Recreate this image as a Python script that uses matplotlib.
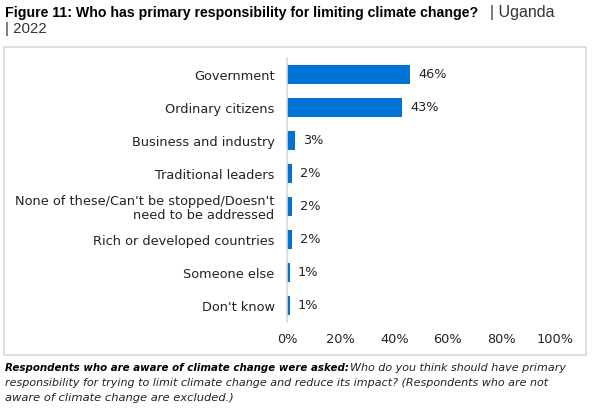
import matplotlib
matplotlib.use("Agg")
import matplotlib.pyplot as plt
from matplotlib.patches import Rectangle

categories = ["Government", "Ordinary citizens", "Business and industry",
              "Traditional leaders",
              "None of these/Can't be stopped/Doesn't\nneed to be addressed",
              "Rich or developed countries", "Someone else", "Don't know"]
values = [46, 43, 3, 2, 2, 2, 1, 1]
ticks = [0, 20, 40, 60, 80, 100]
tick_labels = ["0%", "20%", "40%", "60%", "80%", "100%"]

bar_color = "#0074D4"
txt = "#222222"

fig = plt.figure(figsize=(6.02, 4.11), dpi=100)
r = fig.canvas.get_renderer()


def fit_text(x, yy, s, width, size, **kw):
    # shrink/grow text so it spans the given width in pixels
    t = fig.text(x / 602, 1 - yy / 411, s, fontsize=size, va="center", **kw)
    w = t.get_window_extent(r).width
    t.set_fontsize(size * width / w)
    return t


# chart frame
fig.patches.append(Rectangle((4 / 602, 1 - 355 / 411), 582 / 602, 308 / 411,
                             transform=fig.transFigure, fill=False,
                             edgecolor="#d9d9d9", linewidth=1.2))

ax = fig.add_axes([287 / 602, 1 - 322 / 411, 268 / 602, 264 / 411])
y = list(range(len(categories)))
ax.barh(y, values, height=0.55, color=bar_color)
ax.set_ylim(len(categories) - 0.5, -0.5)
ax.set_xlim(0, 100)
ax.set_yticks(y)
ax.set_yticklabels(categories, fontsize=9.3, color=txt, linespacing=1.1)
ax.set_xticks(ticks)
ax.set_xticklabels(tick_labels, fontsize=9.3, color=txt)
ax.tick_params(axis="both", length=0)
ax.tick_params(axis="y", pad=9)
ax.tick_params(axis="x", pad=8)
for s in ["top", "right", "bottom"]:
    ax.spines[s].set_visible(False)
ax.spines["left"].set_color("#d9d9d9")
ax.spines["left"].set_linewidth(1.2)

for yi, v in zip(y, values):
    ax.text(v + 3, yi, f"{v}%", va="center", ha="left", fontsize=9.3, color=txt)

# title
fit_text(5, 13, "Figure 11: Who has primary responsibility for limiting climate change?",
         475, 10.5, fontweight="bold", family="Liberation Sans", color="black")
fit_text(490, 13, "| Uganda", 65, 10.5, family="Liberation Sans", color="#333333")
fig.text(5 / 602, 1 - 29 / 411, "| 2022", fontsize=10.8,
         family="Liberation Sans", va="center", color="#333333")

# footnote
fit_text(5, 368, "Respondents who are aware of climate change were asked:",
         342, 8.5, fontweight="bold", style="italic", color="black")
fit_text(350, 368, "Who do you think should have primary", 217, 8.5,
         style="italic", color=txt)
fit_text(5, 383, "responsibility for trying to limit climate change and reduce its impact? (Respondents who are not",
         545, 8.5, style="italic", color=txt)
fit_text(5, 398, "aware of climate change are excluded.)", 228, 8.5,
         style="italic", color=txt)

fig.savefig("out.png", dpi=100)
